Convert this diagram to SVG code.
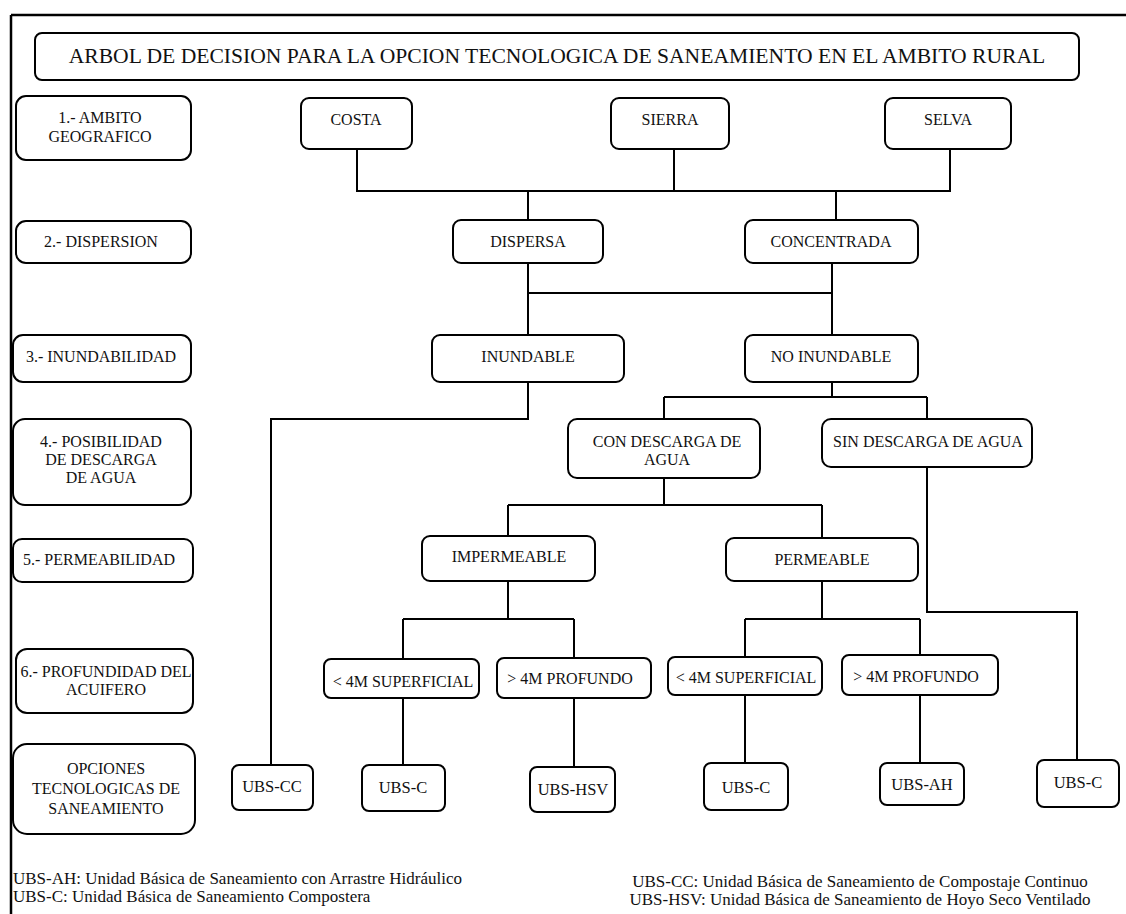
<svg xmlns="http://www.w3.org/2000/svg" width="1126" height="914" viewBox="0 0 1126 914" font-family="'Liberation Serif', 'Times New Roman', serif">
<style>
text{font-family:'Liberation Serif','Times New Roman',serif;fill:#111}
.box{fill:#fff;stroke:#000;stroke-width:2}
.t{font-size:16px;text-anchor:middle}
.u{font-size:16.5px}
.title{font-size:21.6px}
.leg{font-size:17px}
.c{fill:none;stroke:#000;stroke-width:2}
</style>
<rect width="1126" height="914" fill="#fff"/>
<path d="M11 15 H1126 M11 15 V914" fill="none" stroke="#000" stroke-width="2.5"/>

<g id="title"><rect class="box" x="35" y="33" width="1044" height="47" rx="7"/><text class="t title" x="557" y="63">ARBOL DE DECISION PARA LA OPCION TECNOLOGICA DE SANEAMIENTO EN EL AMBITO RURAL</text></g>

<g id="l1"><rect class="box" x="16" y="96" width="175" height="64" rx="10"/><text class="t" x="100" y="123">1.- AMBITO</text><text class="t" x="100" y="142">GEOGRAFICO</text></g>
<g id="l2"><rect class="box" x="16" y="221" width="175" height="42" rx="10"/><text class="t" x="101" y="247">2.- DISPERSION</text></g>
<g id="l3"><rect class="box" x="13" y="335" width="178" height="47" rx="10"/><text class="t" x="101" y="362">3.- INUNDABILIDAD</text></g>
<g id="l4"><rect class="box" x="13" y="419" width="178" height="86" rx="12"/><text class="t" x="101" y="447">4.- POSIBILIDAD</text><text class="t" x="101" y="465">DE DESCARGA</text><text class="t" x="101" y="483">DE AGUA</text></g>
<g id="l5"><rect class="box" x="13" y="539" width="180" height="43" rx="9"/><text class="t" x="99" y="565">5.- PERMEABILIDAD</text></g>
<g id="l6"><rect class="box" x="16" y="649" width="177" height="64" rx="11"/><text class="t" x="106" y="677">6.- PROFUNDIDAD DEL</text><text class="t" x="106" y="695">ACUIFERO</text></g>
<g id="l7"><rect class="box" x="13" y="744" width="182" height="90" rx="14"/><text class="t" x="106" y="774">OPCIONES</text><text class="t" x="106" y="794">TECNOLOGICAS DE</text><text class="t" x="106" y="814">SANEAMIENTO</text></g>

<g id="connectors">
<path class="c" d="M357 149 V191 H950 V149 M674 149 V191"/>
<path class="c" d="M528 191 V220 M836 191 V220"/>
<path class="c" d="M528 263 V335 M832 263 V335 M528 293 H832"/>
<path class="c" d="M528 382 V419 H271 V765"/>
<path class="c" d="M832 382 V397 M664 397 H927 M664 397 V419 M927 397 V419"/>
<path class="c" d="M664 478 V505 M508 505 H822 M508 505 V536 M822 505 V538"/>
<path class="c" d="M508 581 V619 M403 619 H574 M403 619 V659 M574 619 V658"/>
<path class="c" d="M822 581 V619 M745 619 H920 M745 619 V657 M920 619 V655"/>
<path class="c" d="M927 467 V612 H1077 V760"/>
<path class="c" d="M403 698 V765 M574 698 V767 M745 695 V763 M920 695 V763"/>
</g>

<g id="costa"><rect class="box" x="301" y="98" width="111" height="51" rx="8"/><text class="t" x="356" y="125">COSTA</text></g>
<g id="sierra"><rect class="box" x="611" y="98" width="118" height="51" rx="8"/><text class="t" x="670" y="125">SIERRA</text></g>
<g id="selva"><rect class="box" x="885" y="98" width="126" height="51" rx="8"/><text class="t" x="948" y="125">SELVA</text></g>
<g id="dispersa"><rect class="box" x="453" y="220" width="150" height="43" rx="8"/><text class="t" x="528" y="247">DISPERSA</text></g>
<g id="concentrada"><rect class="box" x="745" y="220" width="173" height="43" rx="8"/><text class="t" x="831" y="247">CONCENTRADA</text></g>
<g id="inundable"><rect class="box" x="432" y="335" width="192" height="47" rx="8"/><text class="t" x="528" y="362">INUNDABLE</text></g>
<g id="noinundable"><rect class="box" x="745" y="335" width="173" height="47" rx="8"/><text class="t" x="831" y="362">NO INUNDABLE</text></g>
<g id="condescarga"><rect class="box" x="568" y="419" width="192" height="59" rx="9"/><text class="t" x="667" y="447">CON DESCARGA DE</text><text class="t" x="667" y="465">AGUA</text></g>
<g id="sindescarga"><rect class="box" x="822" y="419" width="210" height="48" rx="9"/><text class="t" x="928" y="447">SIN DESCARGA DE AGUA</text></g>
<g id="impermeable"><rect class="box" x="422" y="536" width="173" height="45" rx="8"/><text class="t" x="509" y="562">IMPERMEABLE</text></g>
<g id="permeable"><rect class="box" x="726" y="538" width="192" height="43" rx="8"/><text class="t" x="822" y="565">PERMEABLE</text></g>
<g id="sup1"><rect class="box" x="324" y="659" width="155" height="39" rx="7"/><text class="t" x="403" y="687">&lt; 4M SUPERFICIAL</text></g>
<g id="prof1"><rect class="box" x="497" y="658" width="154" height="40" rx="7"/><text class="t" x="570" y="684">&gt; 4M PROFUNDO</text></g>
<g id="sup2"><rect class="box" x="668" y="657" width="154" height="38" rx="7"/><text class="t" x="746" y="683">&lt; 4M SUPERFICIAL</text></g>
<g id="prof2"><rect class="box" x="842" y="655" width="156" height="40" rx="7"/><text class="t" x="916" y="682">&gt; 4M PROFUNDO</text></g>
<g id="ubscc"><rect class="box" x="232" y="765" width="81" height="45" rx="7"/><text class="t u" x="272" y="792">UBS-CC</text></g>
<g id="ubsc1"><rect class="box" x="362" y="765" width="83" height="46" rx="7"/><text class="t u" x="403" y="793">UBS-C</text></g>
<g id="ubshsv"><rect class="box" x="530" y="767" width="85" height="45" rx="7"/><text class="t u" x="573" y="795">UBS-HSV</text></g>
<g id="ubsc2"><rect class="box" x="704" y="763" width="84" height="47" rx="7"/><text class="t u" x="746" y="793">UBS-C</text></g>
<g id="ubsah"><rect class="box" x="880" y="763" width="84" height="42" rx="7"/><text class="t u" x="922" y="790">UBS-AH</text></g>
<g id="ubsc3"><rect class="box" x="1037" y="760" width="82" height="47" rx="7"/><text class="t u" x="1078" y="788">UBS-C</text></g>

<g id="legend">
<text class="leg" x="13" y="884">UBS-AH: Unidad Básica de Saneamiento con Arrastre Hidráulico</text>
<text class="leg" x="13" y="902">UBS-C: Unidad Básica de Saneamiento Compostera</text>
<text class="leg" x="860" y="887" text-anchor="middle">UBS-CC: Unidad Básica de Saneamiento de Compostaje Continuo</text>
<text class="leg" x="860" y="905" text-anchor="middle">UBS-HSV: Unidad Básica de Saneamiento de Hoyo Seco Ventilado</text>
</g>
</svg>
